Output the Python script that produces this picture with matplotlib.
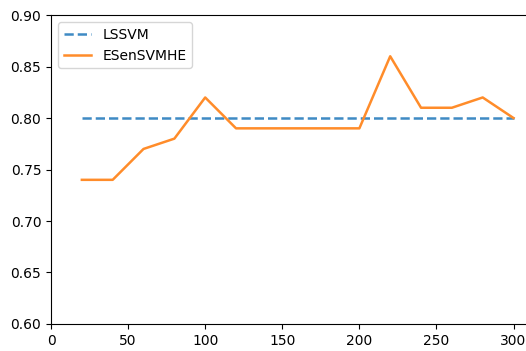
import numpy as np
import matplotlib
matplotlib.use("Agg")
import matplotlib.pyplot as plt

# number of base learners
sizes = [20, 40, 60, 80, 100, 120, 140, 160, 180, 200, 220, 240, 260, 280, 300]
lssvm_acc = [0.80] * len(sizes)
ensemble_acc = [0.74, 0.74, 0.77, 0.78, 0.82, 0.79, 0.79, 0.79, 0.79, 0.79,
                0.86, 0.81, 0.81, 0.82, 0.80]


def _main():
    fig = plt.figure(figsize=(5.26, 3.51), dpi=100)
    ax = fig.add_axes([0.097, 0.077, 0.935, 0.880])
    ax.plot(sizes, lssvm_acc, '--', color='#3f8ac4', lw=1.8, label='LSSVM')
    ax.plot(sizes, ensemble_acc, '-', color='#ff8c2a', lw=1.8, label='ESenSVMHE')
    ax.set_xlim(0, 319)
    ax.set_ylim(0.60, 0.90)
    ax.set_xticks([0, 50, 100, 150, 200, 250, 300])
    ax.set_yticks(np.arange(0.60, 0.901, 0.05))
    ax.legend(loc='upper left')
    fig.savefig('out.png', dpi=100)


if __name__ == "__main__":
    _main()
